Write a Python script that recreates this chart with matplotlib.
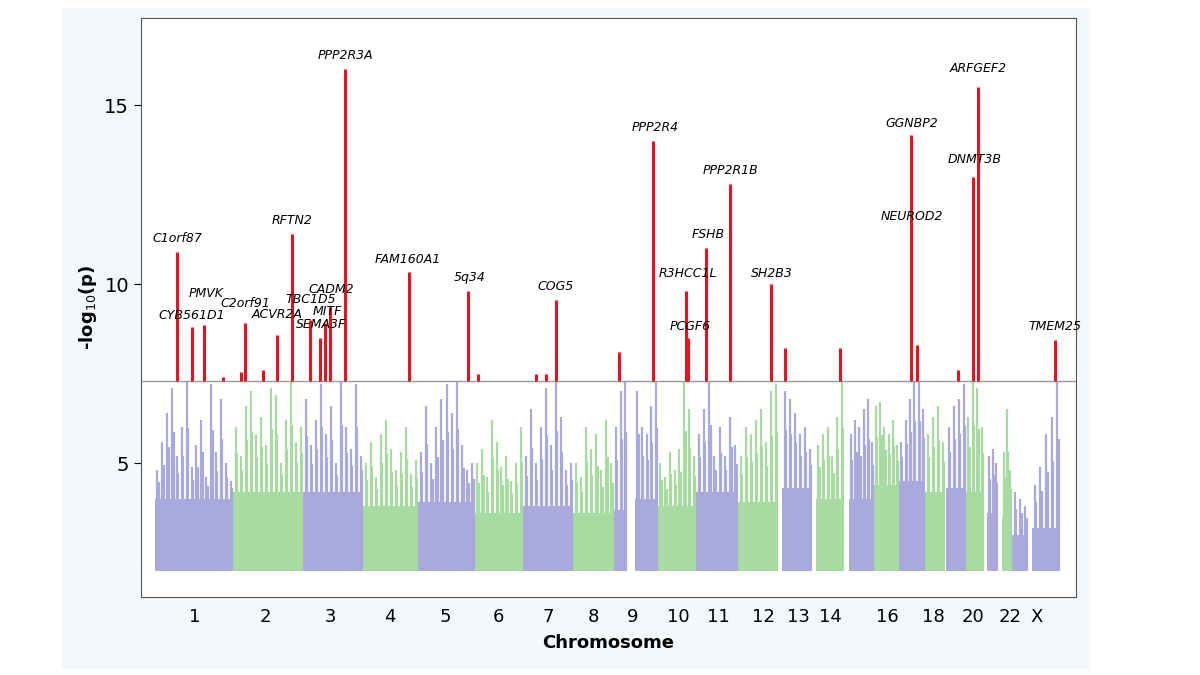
from matplotlib import pyplot as plt
from matplotlib.patches import Rectangle
import numpy as np

# chromosome blocks (x in reference pixel units)
seg_start = [155, 233, 303, 363, 418, 475, 523, 573, 614, 635, 658, 696, 738, 782,
             816, 849, 874, 899, 925, 946, 966, 987, 1002, 1012, 1032]
seg_end = [233, 303, 363, 418, 475, 523, 573, 614, 627, 658, 696, 738, 778, 812,
           844, 874, 899, 925, 945, 966, 984, 998, 1012, 1028, 1060]
seg_purple = [1, 0, 1, 0, 1, 0, 1, 0, 1, 1, 0, 1, 0, 1, 0, 1, 0, 1, 0, 1, 0, 1, 0, 1, 1]
seg_base = [4.0, 4.2, 4.2, 3.8, 3.9, 3.6, 3.8, 3.6, 3.7, 4.0, 3.8, 4.2, 3.9, 4.3,
            4.0, 4.0, 4.4, 4.5, 4.2, 4.3, 4.2, 3.6, 3.5, 3.0, 3.2]
seg_spikes = [
    [4.8, 5.6, 6.4, 7.1, 5.2, 6.0, 7.3, 4.9, 5.5, 6.2, 4.6, 7.2, 5.3, 6.8, 5.0, 4.5],
    [6.0, 5.2, 6.6, 7.0, 5.8, 6.3, 5.5, 7.1, 6.9, 5.0, 6.2, 7.3, 5.6, 6.0],
    [6.8, 5.5, 6.2, 7.2, 5.8, 6.6, 5.0, 7.3, 6.0, 5.4, 7.2, 5.2],
    [5.0, 5.6, 4.6, 5.8, 6.2, 5.4, 4.8, 5.3, 6.0, 4.7, 5.1],
    [5.3, 6.6, 5.0, 6.0, 6.8, 7.2, 6.4, 7.3, 5.5, 4.8, 5.0],
    [5.0, 5.4, 4.6, 6.2, 5.6, 4.9, 5.2, 4.5, 5.0, 6.0],
    [5.2, 6.5, 5.0, 6.0, 7.1, 5.5, 7.3, 6.3, 4.8, 5.0],
    [5.0, 4.6, 6.0, 5.4, 5.8, 4.8, 6.2, 5.0],
    [6.0, 7.0, 7.3],
    [7.0, 6.0, 5.8, 6.6, 7.3],
    [5.0, 4.6, 5.3, 4.8, 5.4, 7.3, 6.5, 5.2],
    [5.8, 6.5, 7.3, 5.2, 6.0, 5.2, 6.3, 5.5],
    [5.2, 6.0, 5.8, 6.2, 6.5, 5.6, 7.0, 7.2],
    [7.0, 6.8, 6.4, 5.8, 6.0, 5.4],
    [5.5, 5.8, 6.0, 5.2, 6.3, 7.3],
    [5.8, 6.2, 6.0, 6.5, 6.8, 5.6],
    [6.6, 6.7, 6.0, 5.8, 6.2, 5.5],
    [5.6, 6.2, 6.8, 7.3, 7.3, 6.5],
    [5.8, 6.3, 6.6, 5.6],
    [6.0, 6.6, 6.8, 7.2],
    [6.3, 7.3, 7.1, 6.0],
    [5.2, 5.4, 5.0],
    [5.3, 6.5, 4.8],
    [4.2, 4.0, 3.8],
    [4.4, 4.9, 5.8, 6.3, 7.3],
]

# significant hits (red)
hit_x = [177, 192, 204, 223, 241, 245, 263, 277, 292, 310, 320, 325, 330, 345,
         409, 468, 478, 536, 546, 556, 619, 653, 686, 688, 706, 730, 771, 785,
         840, 911, 917, 958, 973, 978, 1055]
hit_peak = [10.9, 8.8, 8.85, 7.4, 7.55, 8.9, 7.6, 8.57, 11.4, 9.0, 8.5, 8.9, 9.35, 16.0,
            10.35, 9.8, 7.5, 7.5, 7.5, 9.55, 8.1, 14.0, 9.8, 8.5, 11.0, 12.8, 10.0, 8.2,
            8.2, 14.15, 8.3, 7.6, 13.0, 15.5, 8.45]

labels = ['C1orf87', 'CYB561D1', 'PMVK', 'C2orf91', 'ACVR2A', 'RFTN2', 'TBC1D5',
          'CADM2', 'MITF', 'SEMA3F', 'PPP2R3A', 'FAM160A1', '5q34', 'COG5', 'PPP2R4',
          'R3HCC1L', 'PCGF6', 'FSHB', 'PPP2R1B', 'SH2B3', 'GGNBP2', 'NEUROD2',
          'DNMT3B', 'ARFGEF2', 'TMEM25']
label_x = [177, 192, 206, 245, 277, 292, 311, 331, 327, 321, 345, 408, 470, 556, 655,
           688, 690, 708, 731, 772, 912, 912, 975, 978, 1055]
label_y = [11.1, 8.95, 9.55, 9.27, 8.97, 11.6, 9.38, 9.68, 9.05, 8.68, 16.2, 10.5, 10.0,
           9.75, 14.2, 10.1, 8.63, 11.2, 13.0, 10.1, 14.3, 11.7, 13.3, 15.85, 8.63]

tick_pos = [195, 265, 330, 390, 445, 498, 548, 593, 633, 678, 718, 763, 798, 830,
            887, 933, 973, 1010, 1037]
tick_lab = ['1', '2', '3', '4', '5', '6', '7', '8', '9', '10', '11', '12', '13', '14',
            '16', '18', '20', '22', 'X']

threshold = 7.3
purple = '#a9a9dc'
green = '#a8dba2'
red = '#e3141d'

fig = plt.figure(figsize=(12, 6.75), dpi=100)
bg = Rectangle((62 / 1200, 7 / 675), 1026 / 1200, 660 / 675,
               transform=fig.transFigure, color='#f3f8fc', zorder=-10)
fig.add_artist(bg)
ax = fig.add_axes([141 / 1200, 78 / 675, 935 / 1200, 579 / 675])
ax.set_zorder(1)

for s, e, p, b, sp in zip(seg_start, seg_end, seg_purple, seg_base, seg_spikes):
    c = purple if p else green
    ax.bar((s + e) / 2, b - 2, width=e - s, bottom=2, color=c, linewidth=0)
    step = (e - s) / len(sp)
    xs = [s + step * (i + 0.5) for i in range(len(sp))]
    ax.vlines(xs, 2, sp, color=c, linewidth=1.6)
    ax.vlines([x + step * 0.3 for x in xs], 2, [b + (h - b) * 0.6 for h in sp],
              color=c, linewidth=1.6)

ax.axhline(threshold, color='#999999', linewidth=1)
ax.vlines(hit_x, threshold, hit_peak, color=red, linewidth=2.2, zorder=3)

for t, x, y in zip(labels, label_x, label_y):
    ax.text(x, y, t, fontsize=9, style='italic', ha='center', va='bottom')

ax.set_xlim(141, 1076)
ax.set_ylim(1.26, 17.43)
ax.set_yticks([5, 10, 15])
ax.set_xticks(tick_pos)
ax.set_xticklabels(tick_lab)
ax.tick_params(axis='x', length=0, labelsize=13, pad=8)
ax.tick_params(axis='y', labelsize=14, length=5)
ax.set_xlabel('Chromosome', fontsize=13, fontweight='bold', labelpad=6)
ax.set_ylabel('-log$_{10}$($\\mathbf{p}$)', fontsize=13, fontweight='bold')
for sp_ in ax.spines.values():
    sp_.set_color('#555555')

fig.savefig('out.png', dpi=100)
